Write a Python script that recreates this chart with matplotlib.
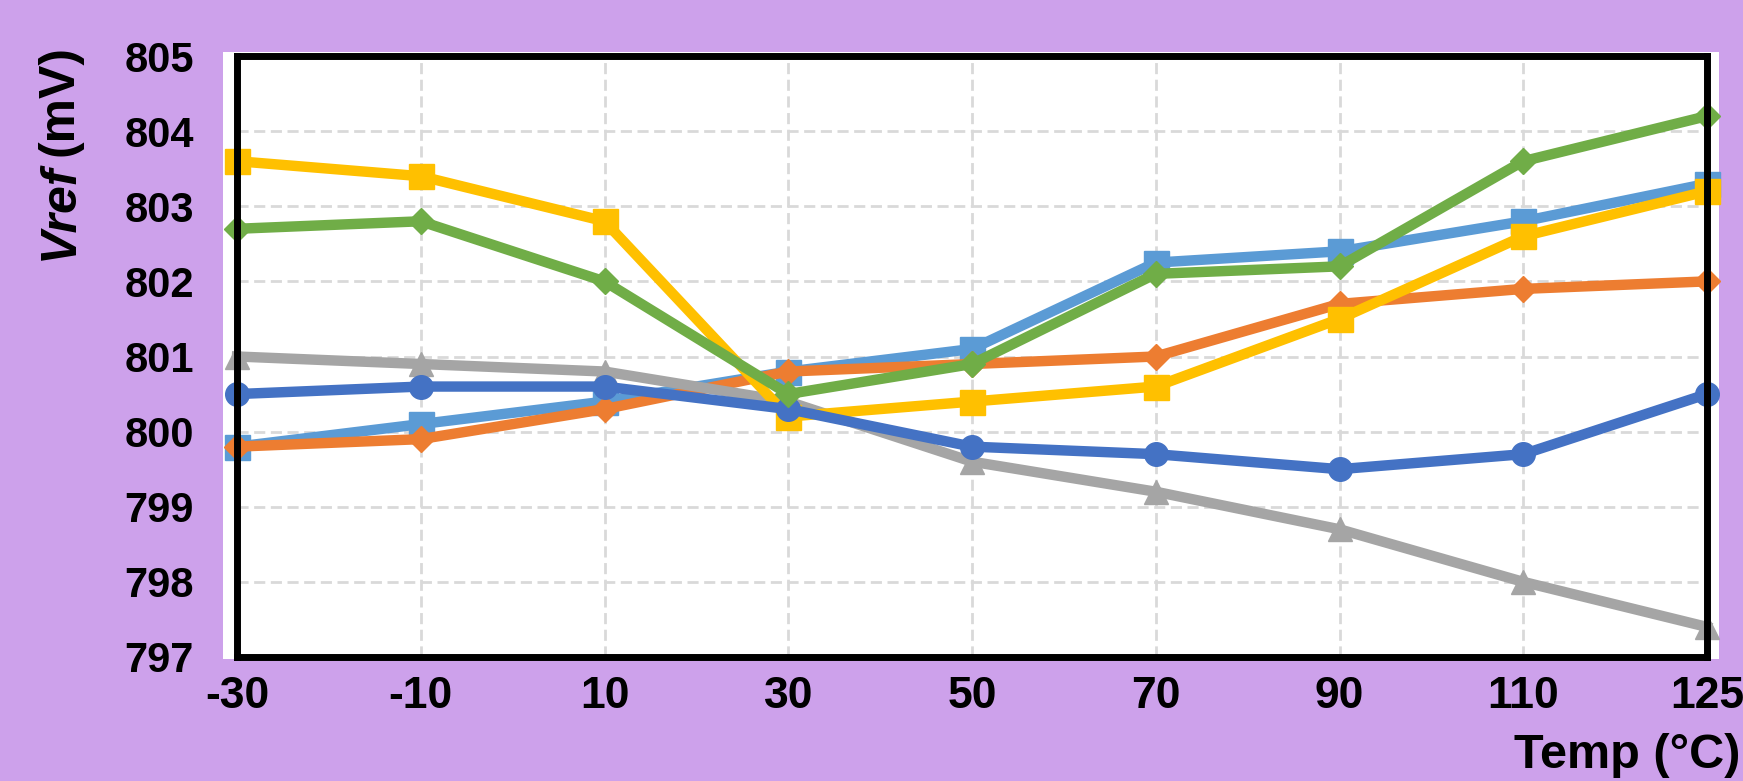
import matplotlib.pyplot as plt
from matplotlib.patches import Rectangle

# data
temps = ['-30', '-10', '10', '30', '50', '70', '90', '110', '125']
s_blue = [800.5, 800.6, 800.6, 800.3, 799.8, 799.7, 799.5, 799.7, 800.5]
s_orange = [799.8, 799.9, 800.3, 800.8, 800.9, 801.0, 801.7, 801.9, 802.0]
s_gray = [801.0, 800.9, 800.8, 800.4, 799.6, 799.2, 798.7, 798.0, 797.4]
s_yellow = [803.6, 803.4, 802.8, 800.2, 800.4, 800.6, 801.5, 802.6, 803.2]
s_lblue = [799.8, 800.1, 800.4, 800.8, 801.1, 802.25, 802.4, 802.8, 803.3]
s_green = [802.7, 802.8, 802.0, 800.5, 800.9, 802.1, 802.2, 803.6, 804.2]
yticks = [797, 798, 799, 800, 801, 802, 803, 804, 805]

plt.rcParams['font.family'] = ['Liberation Sans', 'DejaVu Sans']
plt.rcParams['font.weight'] = 'bold'

W, H = 1743, 781
fig = plt.figure(figsize=(W / 100, H / 100), dpi=100)
fig.patch.set_facecolor('#CDA1EB')

# white plot area, a bit wider than the frame
fig.patches.append(Rectangle((223 / W, 1 - 659 / H), (1719 - 223) / W, (659 - 52) / H,
                             transform=fig.transFigure, facecolor='white', edgecolor='none', zorder=-5))

ax = fig.add_axes([237 / W, 1 - 657 / H, (1707 - 237) / W, (657 - 56) / H])
ax.set_facecolor('white')

x = list(range(len(temps)))
series = [
    (s_lblue, '#5B9BD5', 's', 18, 2),
    (s_orange, '#ED7D31', 'D', 13.5, 3),
    (s_gray, '#A5A5A5', '^', 17, 4),
    (s_yellow, '#FFC000', 's', 18, 5),
    (s_blue, '#4472C4', 'o', 17, 6),
    (s_green, '#70AD47', 'D', 13.5, 7),
]
for vals, col, mk, ms, z in series:
    ax.plot(x, vals, color=col, lw=7.5, marker=mk, markersize=ms,
            markerfacecolor=col, markeredgecolor=col, clip_on=False, zorder=z)

ax.set_xlim(0, len(temps) - 1)
ax.set_ylim(797, 805)
ax.set_xticks(x)
ax.set_xticklabels(temps, fontsize=32, fontweight='bold')
ax.set_yticks(yticks)
ax.set_yticklabels([str(v) for v in yticks], fontsize=30, fontweight='bold')
ax.tick_params(axis='both', length=0)
ax.tick_params(axis='y', pad=31)
ax.tick_params(axis='x', pad=14)

ax.grid(True, color='#D9D9D9', lw=2, linestyle=(0, (4, 2)), zorder=1)
ax.set_axisbelow(True)
for sp in ax.spines.values():
    sp.set_linewidth(5)
    sp.set_color('black')
    sp.set_zorder(8)

# axis titles
fig.text(1740 / W, 1 - 755 / H, 'Temp (°C)', fontsize=35, fontweight='bold',
         ha='right', va='center')
t1 = fig.text(60 / W, 1 - 260 / H, 'Vref', fontsize=36, fontweight='bold', style='italic',
              rotation=90, ha='center', va='bottom')
fig.canvas.draw()
bb = t1.get_window_extent()
fig.text(60 / W, (bb.y1 + 8) / H, '(mV)', fontsize=36, fontweight='bold',
         rotation=90, ha='center', va='bottom')

fig.savefig('out.png', dpi=100, facecolor=fig.get_facecolor())
